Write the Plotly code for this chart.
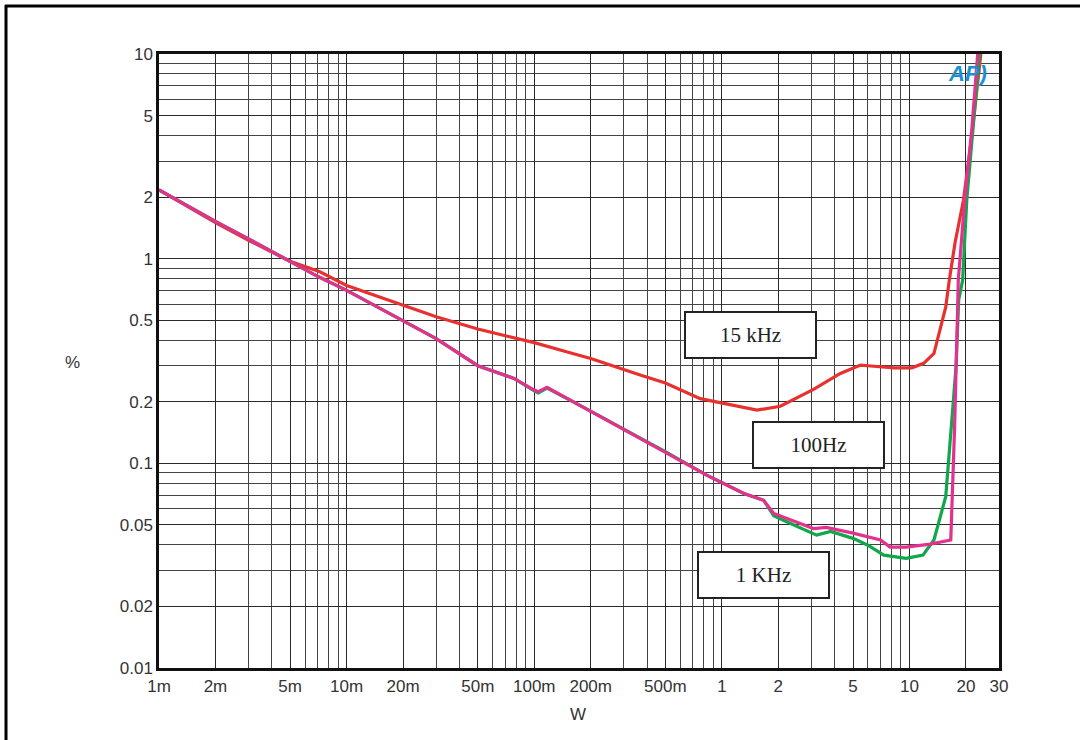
import plotly.graph_objects as go
import math

# ---------------- data ----------------
x_100hz = [0.001, 0.002, 0.003, 0.005, 0.007, 0.01, 0.02, 0.03, 0.05, 0.078, 0.1, 0.105, 0.117,
           0.155, 0.2, 0.3, 0.5, 0.83, 1.31, 1.67, 1.89, 2.0, 2.5, 3.08, 3.6, 5.0, 7.01, 7.88,
           9.6, 12.9, 16.6, 17.4, 18.1, 18.2, 19.7, 21.5, 23.1]
y_100hz = [2.17, 1.52, 1.25, 0.966, 0.82, 0.70, 0.498, 0.407, 0.30, 0.26, 0.228, 0.224, 0.235,
           0.204, 0.18, 0.147, 0.114, 0.0875, 0.0713, 0.066, 0.0569, 0.0558, 0.0518, 0.048, 0.0486,
           0.0456, 0.0422, 0.039, 0.039, 0.0403, 0.0422, 0.15, 0.63, 0.785, 1.93, 4.3, 10.0]

x_1khz = [0.001, 0.002, 0.003, 0.005, 0.007, 0.01, 0.02, 0.03, 0.05, 0.078, 0.1, 0.105, 0.117,
          0.155, 0.2, 0.3, 0.5, 0.83, 1.31, 1.67, 1.89, 2.2, 3.2, 3.8, 5.0, 6.0, 7.3, 9.6,
          11.8, 13.5, 15.6, 16.6, 17.7, 18.3, 19.2, 20.2, 21.8, 23.6]
y_1khz = [2.17, 1.52, 1.25, 0.966, 0.82, 0.70, 0.498, 0.407, 0.30, 0.26, 0.226, 0.221, 0.233,
          0.204, 0.18, 0.147, 0.114, 0.0875, 0.0713, 0.066, 0.0555, 0.052, 0.0446, 0.0465, 0.043,
          0.0398, 0.0356, 0.0343, 0.0356, 0.0422, 0.0687, 0.14, 0.296, 0.63, 0.785, 1.93, 4.3, 10.0]

x_15khz = [0.001, 0.002, 0.003, 0.005, 0.0061, 0.0072, 0.01, 0.02, 0.03, 0.05, 0.1, 0.155, 0.2,
           0.367, 0.5, 0.767, 1.0, 1.54, 2.05, 3.08, 4.28, 5.48, 6.45, 8.27, 10.3, 11.9, 13.5,
           14.3, 15.6, 16.3, 17.5, 19.4, 21.5, 24.0]
y_15khz = [2.17, 1.50, 1.23, 0.97, 0.91, 0.863, 0.74, 0.593, 0.52, 0.453, 0.389, 0.347, 0.325,
           0.27, 0.247, 0.207, 0.197, 0.182, 0.19, 0.23, 0.275, 0.302, 0.298, 0.293, 0.293, 0.308,
           0.344, 0.43, 0.58, 0.785, 1.2, 1.93, 4.0, 10.0]

x_tick_vals = [0.001, 0.002, 0.005, 0.01, 0.02, 0.05, 0.1, 0.2, 0.5, 1, 2, 5, 10, 20, 30]
x_tick_text = ["1m", "2m", "5m", "10m", "20m", "50m", "100m", "200m", "500m",
               "1", "2", "5", "10", "20", "30"]
y_tick_vals = [0.01, 0.02, 0.05, 0.1, 0.2, 0.5, 1, 2, 5, 10]
y_tick_text = ["0.01", "0.02", "0.05", "0.1", "0.2", "0.5", "1", "2", "5", "10"]

minor_mult = [3, 4, 6, 7, 8, 9]
x_minor_vals = [m * d for d in [0.001, 0.01, 0.1, 1] for m in minor_mult]
y_minor_vals = [m * d for d in [0.01, 0.1, 1] for m in minor_mult]

# ---------------- layout geometry ----------------
W, H = 1080, 740
L, R, T, B = 159, 999, 54, 668


def px(xp):
    return (xp - L) / (R - L)


def py(yp):
    return (B - yp) / (B - T)


fig = go.Figure()

series = [
    (x_15khz, y_15khz, "#e8312f", "15 kHz"),
    (x_1khz, y_1khz, "#10a64a", "1 KHz"),
    (x_100hz, y_100hz, "#e4308e", "100Hz"),
]
for xs, ys, col, name in series:
    fig.add_trace(go.Scatter(x=xs, y=ys, mode="lines", name=name,
                             line=dict(color=col, width=3.2), showlegend=False))

axis_font = dict(family="Liberation Sans, Arial, sans-serif", size=17, color="#333333")

fig.update_xaxes(
    type="log", range=[-3, math.log10(30)],
    tickmode="array", tickvals=x_tick_vals, ticktext=x_tick_text,
    showgrid=True, gridcolor="#2a2a2a", gridwidth=1.3,
    ticks="", tickfont=axis_font, ticklabelstandoff=1,
    showline=True, linecolor="#111111", linewidth=2.5, mirror=True,
    minor=dict(tickmode="array", tickvals=x_minor_vals, showgrid=True,
               gridcolor="#444444", gridwidth=1.1, ticks=""),
    zeroline=False,
)
fig.update_yaxes(
    type="log", range=[-2, 1],
    tickmode="array", tickvals=y_tick_vals, ticktext=y_tick_text,
    showgrid=True, gridcolor="#2a2a2a", gridwidth=1.3,
    ticks="", tickfont=axis_font, ticklabelstandoff=0,
    showline=True, linecolor="#111111", linewidth=2.5, mirror=True,
    minor=dict(tickmode="array", tickvals=y_minor_vals, showgrid=True,
               gridcolor="#444444", gridwidth=1.1, ticks=""),
    zeroline=False,
)

box_font = dict(family="Liberation Serif, Times New Roman, serif", size=21, color="#222222")
boxes = [("15 kHz", 750.5, 335), ("100Hz", 818.5, 445), ("1 KHz", 763, 575)]
for txt, cx, cy in boxes:
    fig.add_annotation(x=px(cx), y=py(cy), xref="paper", yref="paper", text=txt,
                       showarrow=False, font=box_font, bgcolor="white",
                       bordercolor="#222222", borderwidth=2, width=127, height=42,
                       xanchor="center", yanchor="middle")

# axis titles
fig.add_annotation(x=px(72), y=py(362), xref="paper", yref="paper", text="%",
                   showarrow=False, font=axis_font, xanchor="center", yanchor="middle")
fig.add_annotation(x=px(578), y=py(714), xref="paper", yref="paper", text="W",
                   showarrow=False, font=axis_font, xanchor="center", yanchor="middle")

# AP logo
fig.add_annotation(x=px(967), y=py(73), xref="paper", yref="paper",
                   text="<b><i>AP)</i></b>", showarrow=False,
                   xanchor="center", yanchor="middle",
                   font=dict(family="Liberation Sans, Arial, sans-serif", size=22, color="#1b8fd0"))

# outer frame (left and top edges)
fig.add_shape(type="line", xref="paper", yref="paper",
              x0=px(6), y0=py(5), x1=px(6), y1=py(760),
              line=dict(color="black", width=3))
fig.add_shape(type="line", xref="paper", yref="paper",
              x0=px(5), y0=py(6), x1=px(1100), y1=py(6),
              line=dict(color="black", width=3))

fig.update_layout(
    width=W, height=H,
    margin=dict(l=L, r=W - R, t=T, b=H - B, autoexpand=False),
    paper_bgcolor="white", plot_bgcolor="white",
    showlegend=False,
)

fig.write_html("out.html", config={"displayModeBar": False},
               post_script="document.body.style.margin='0';")
